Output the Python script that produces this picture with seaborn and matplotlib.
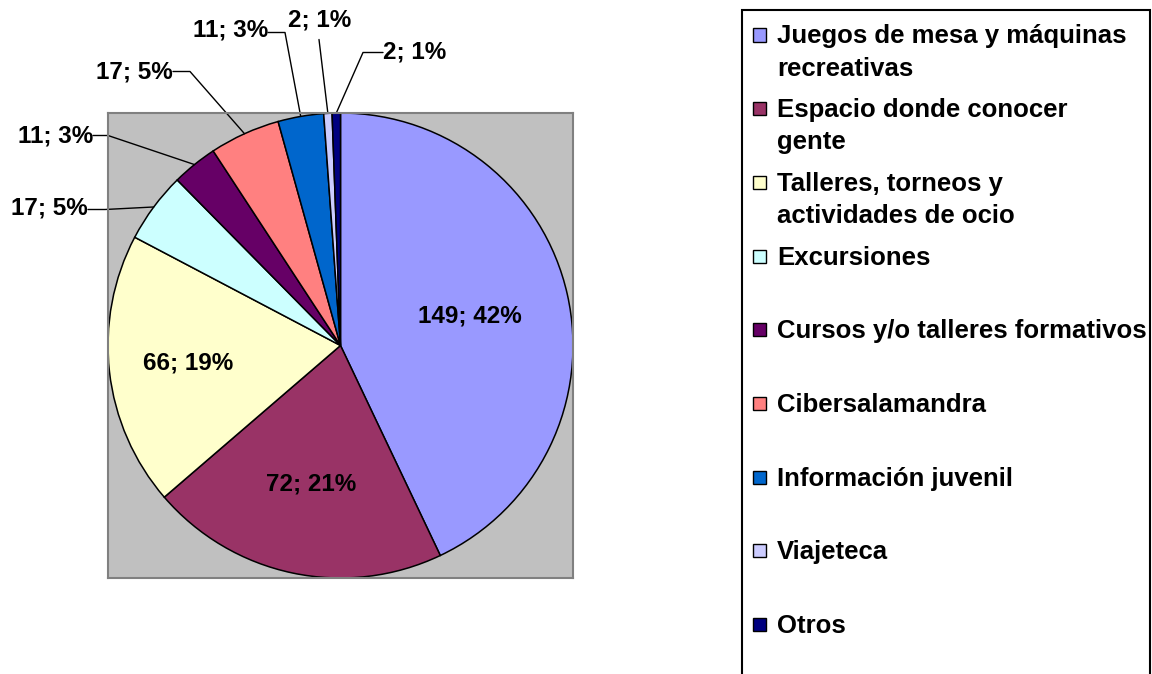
import matplotlib
matplotlib.use("Agg")
import numpy as np
import matplotlib.pyplot as plt
import seaborn as sns
from matplotlib.patches import Rectangle

categories = ['Juegos de mesa y máquinas\nrecreativas', 'Espacio donde conocer\ngente',
              'Talleres, torneos y\nactividades de ocio', 'Excursiones',
              'Cursos y/o talleres formativos', 'Cibersalamandra', 'Información juvenil',
              'Viajeteca', 'Otros']
values = [149, 72, 66, 17, 11, 17, 11, 2, 2]
percents = [42, 21, 19, 5, 3, 5, 3, 1, 1]
colors = ['#9999FF', '#993366', '#FFFFCC', '#CCFFFF', '#660066',
          '#FF8080', '#0066CC', '#CCCCFF', '#000080']

W, H = 1152, 674
sns.set_style("white")
plt.rcParams['font.family'] = ['Liberation Sans', 'DejaVu Sans']
plt.rcParams['font.weight'] = 'bold'
plt.rcParams['text.color'] = 'black'
FS = 17.5

fig = plt.figure(figsize=(W / 100, H / 100), dpi=100)
ax = fig.add_axes([108 / W, (H - 578) / H, 465 / W, 465 / H])

wedges, _ = ax.pie(values, colors=sns.color_palette(colors), startangle=90, counterclock=False,
                   radius=1, wedgeprops=dict(edgecolor='black', linewidth=1.1))
ax.set_frame_on(True)
ax.set_facecolor('#C0C0C0')
ax.set_xlim(-1, 1)
ax.set_ylim(-1, 1)
ax.set_xticks([])
ax.set_yticks([])
for s in ax.spines.values():
    s.set_color('#808080')
    s.set_linewidth(1.5)

labels = [f"{v}; {p}%" for v, p in zip(values, percents)]
mids = [np.deg2rad((w.theta1 + w.theta2) / 2) for w in wedges]

# labels inside the big slices
inner_r = [0.57, 0.61, 0.66]
for i, r in enumerate(inner_r):
    ax.text(r * np.cos(mids[i]), r * np.sin(mids[i]), labels[i], ha='center', va='center',
            fontsize=FS, fontweight='bold', color='black')


def to_data(px, py):
    return (px - 340.5) / 232.5, (345 - py) / 232.5


# outside labels: (text x, text y, ha, elbow x, elbow y) in pixels
outside = {
    3: (88, 208, 'right', 105, 209),
    4: (93, 135, 'right', 108, 135),
    5: (173, 71, 'right', 190, 71),
    6: (268, 30, 'right', 285, 32),
    7: (320, 19, 'center', 319, 39),
    8: (383, 51, 'left', 363, 52),
}
for i, (tx, ty, ha, ex, ey) in outside.items():
    x, y = to_data(tx, ty)
    ax.text(x, y, labels[i], ha=ha, va='center', fontsize=FS, fontweight='bold',
            color='black', clip_on=False)
    pts = [(np.cos(mids[i]), np.sin(mids[i])), to_data(ex, ey)]
    if ha != 'center':
        pts.append(to_data(tx, ey))
    xs, ys = zip(*pts)
    ax.plot(xs, ys, color='black', linewidth=1.0, clip_on=False)

# legend box
fig.patches.append(Rectangle((742 / W, -0.1), (1150 - 742) / W, 1 - 10 / H + 0.1,
                             transform=fig.transFigure, facecolor='none',
                             edgecolor='black', linewidth=1.5))
for i, (cat, col) in enumerate(zip(categories, colors)):
    cy = 35 + 73.7 * i
    fig.patches.append(Rectangle((753 / W, 1 - (cy + 6.5) / H), 13 / W, 13 / H,
                                 transform=fig.transFigure, facecolor=col,
                                 edgecolor='black', linewidth=1.0))
    for k, line in enumerate(cat.split('\n')):
        fig.text(777 / W, 1 - (cy + 8.5 + 32 * k) / H, line, ha='left', va='baseline',
                 fontsize=18.5, fontweight='bold', color='black')

fig.savefig('out.png', dpi=100)
